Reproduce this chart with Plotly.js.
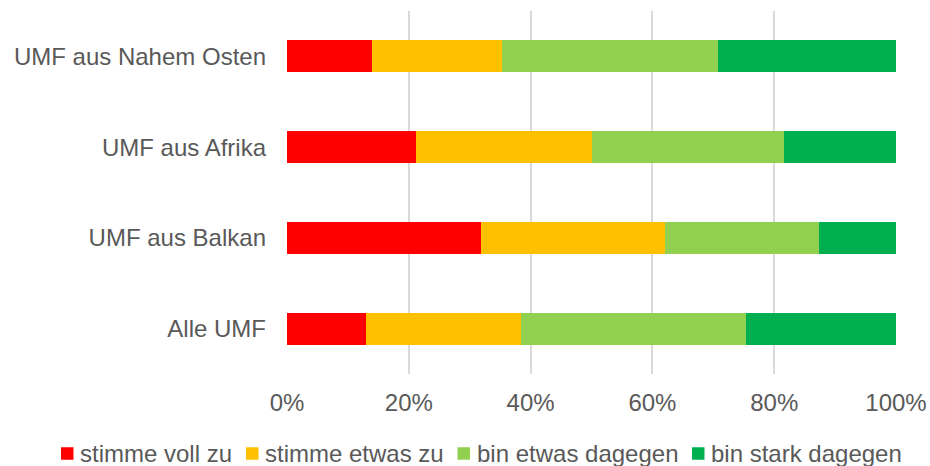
<!DOCTYPE html>
<html>
<head>
<meta charset="utf-8">
<script src="https://cdn.plot.ly/plotly-3.0.1.min.js"></script>
<style>html,body{margin:0;padding:0;background:#fff;}#chart{width:930px;height:466px;}</style>
</head>
<body>
<div id="chart"></div>
<script>
const categories = ['Alle UMF', 'UMF aus Balkan', 'UMF aus Afrika', 'UMF aus Nahem Osten'];
const seriesNames = ['stimme voll zu', 'stimme etwas zu', 'bin etwas dagegen', 'bin stark dagegen'];
const stimmeVollZu    = [13.0, 31.9, 21.1, 14.0];
const stimmeEtwasZu   = [25.5, 30.1, 29.0, 21.3];
const binEtwasDagegen = [36.9, 25.4, 31.5, 35.4];
const binStarkDagegen = [24.6, 12.6, 18.4, 29.3];
const tickVals = [0, 20, 40, 60, 80, 100];
const tickLabels = ['0%', '20%', '40%', '60%', '80%', '100%'];
const colors = ['#FF0000', '#FFC000', '#92D050', '#00B050'];

// plot area geometry (pixels)
const W = 930, H = 466;
const M = { l: 287, r: 34, t: 11, b: 92 };
const plotW = W - M.l - M.r, plotH = H - M.t - M.b;
const px2x = p => (p - M.l) / plotW;
const py2y = p => (H - M.b - p) / plotH;

// legend layout (pixels): square left edges and text left edges
const legendSquareX = [61, 246, 457.5, 692];
const legendTextX = [79, 264, 476, 710];
const legendCY = 453.5, sq = 12.5;

const seriesValues = [stimmeVollZu, stimmeEtwasZu, binEtwasDagegen, binStarkDagegen];
const traces = seriesValues.map((vals, i) => ({
  type: 'bar',
  orientation: 'h',
  name: seriesNames[i],
  y: categories,
  x: vals,
  marker: { color: colors[i], line: { width: 0 } },
  hoverinfo: 'x+y+name'
}));

const shapes = seriesNames.map((n, i) => ({
  type: 'rect', xref: 'paper', yref: 'paper',
  x0: px2x(legendSquareX[i]), x1: px2x(legendSquareX[i] + sq),
  y0: py2y(legendCY + sq / 2), y1: py2y(legendCY - sq / 2),
  fillcolor: colors[i], line: { width: 0 }
}));

const annotations = seriesNames.map((n, i) => ({
  xref: 'paper', yref: 'paper',
  x: px2x(legendTextX[i]), y: py2y(legendCY),
  xanchor: 'left', yanchor: 'middle',
  text: n, showarrow: false,
  font: { size: 24, color: '#595959' },
  borderpad: 0
}));

const layout = {
  width: W,
  height: H,
  margin: { l: M.l, r: M.r, t: M.t, b: M.b, pad: 0 },
  paper_bgcolor: '#ffffff',
  plot_bgcolor: '#ffffff',
  barmode: 'stack',
  bargap: 0.647,
  font: { family: '"Liberation Sans", Arial, sans-serif', size: 24, color: '#595959' },
  xaxis: {
    range: [0, 100],
    tickvals: tickVals,
    ticktext: tickLabels,
    showgrid: true,
    gridcolor: '#d9d9d9',
    gridwidth: 2,
    zeroline: false,
    showline: false,
    ticks: '',
    ticklabelstandoff: 12,
    tickfont: { size: 24, color: '#595959' },
    fixedrange: true
  },
  yaxis: {
    type: 'category',
    categoryorder: 'array',
    categoryarray: categories,
    showgrid: false,
    zeroline: false,
    showline: false,
    ticks: '',
    ticklabelstandoff: 20,
    tickfont: { size: 24, color: '#595959' },
    fixedrange: true
  },
  showlegend: false,
  shapes: shapes,
  annotations: annotations
};

Plotly.newPlot('chart', traces, layout, { displayModeBar: false, staticPlot: true });
</script>
</body>
</html>
